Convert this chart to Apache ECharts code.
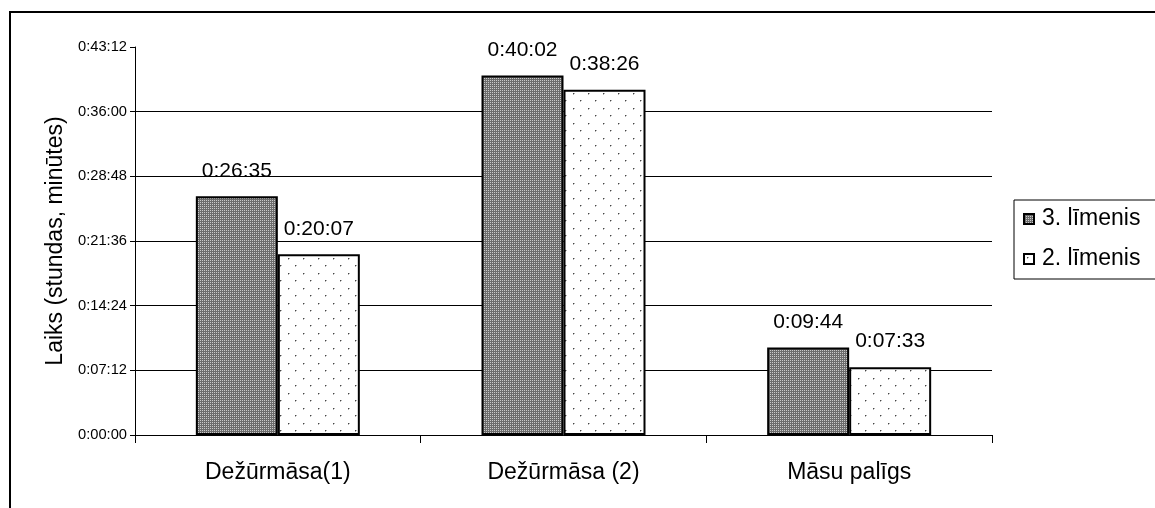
<!DOCTYPE html>
<html>
<head>
<meta charset="utf-8">
<script src="https://cdn.jsdelivr.net/npm/echarts@6/dist/echarts.min.js"></script>
<style>
html,body{margin:0;padding:0;background:#fff;}
#chart{width:1155px;height:508px;}
</style>
</head>
<body>
<div id="chart"></div>
<script>
var categories = ['Dežūrmāsa(1)', 'Dežūrmāsa (2)', 'Māsu palīgs'];
var seriesNames = ['3. līmenis', '2. līmenis'];
// values in seconds
var level3 = [1595, 2402, 584];   // 0:26:35, 0:40:02, 0:09:44
var level2 = [1207, 2306, 453];   // 0:20:07, 0:38:26, 0:07:33
var yMax = 2592;      // 0:43:12
var yInterval = 432;  // 0:07:12

function fmt(s){
  var h = Math.floor(s/3600), m = Math.floor((s%3600)/60), sec = Math.round(s%60);
  return h + ':' + (m<10?'0':'') + m + ':' + (sec<10?'0':'') + sec;
}

function checkerPattern(){
  var c = document.createElement('canvas');
  c.width = 2; c.height = 2;
  var g = c.getContext('2d');
  g.fillStyle = '#6c6c6c'; g.fillRect(0,0,2,2);
  g.fillStyle = '#cacaca'; g.fillRect(0,0,1,1);
  return c;
}
function dotPattern(){
  var c = document.createElement('canvas');
  c.width = 15; c.height = 15;
  var g = c.getContext('2d');
  g.fillStyle = '#ffffff'; g.fillRect(0,0,15,15);
  g.fillStyle = '#444444';
  g.fillRect(3,3,1,1);
  g.fillRect(10,10,1,1);
  g.fillStyle = 'rgba(60,60,60,0.4)';
  g.fillRect(4,3,1,1); g.fillRect(3,4,1,1);
  g.fillRect(11,10,1,1); g.fillRect(10,11,1,1);
  return c;
}

var chart = echarts.init(document.getElementById('chart'), null, {renderer:'canvas'});
var FONT = 'Liberation Sans, Arial, sans-serif';
var labelStyle = {show:true, position:'top', distance:15, color:'#000', fontFamily:FONT, fontSize:21, formatter:function(p){return fmt(p.value);}};

var splitColors = [];
for (var v = 0; v <= yMax; v += yInterval) splitColors.push(v < yMax ? '#000' : 'rgba(0,0,0,0)');

chart.setOption({
  animation:false,
  backgroundColor:'#fff',
  graphic:[{type:'rect', shape:{x:10, y:12, width:1300, height:700}, style:{fill:'none', stroke:'#000', lineWidth:2}, z:100}],
  grid:{left:135, right:163, top:47, bottom:73},
  legend:{
    orient:'vertical', left:1014, top:200,
    padding:[6,30,7,9], itemGap:14,
    borderColor:'#000', borderWidth:1,
    itemWidth:10, itemHeight:10,
    icon:'rect',
    textStyle:{fontFamily:FONT, fontSize:23, lineHeight:26, color:'#000', padding:[0,0,0,3]},
    data:seriesNames
  },
  xAxis:{
    type:'category', data:categories,
    axisLine:{lineStyle:{color:'#000', width:1}},
    axisTick:{show:true, length:8, lineStyle:{color:'#000'}, interval:0},
    axisLabel:{color:'#000', fontFamily:FONT, fontSize:23, margin:26}
  },
  yAxis:{
    type:'value', min:0, max:yMax, interval:yInterval,
    name:'Laiks (stundas, minūtes)', nameLocation:'middle', nameGap:66,
    nameTextStyle:{fontFamily:FONT, fontSize:23, color:'#000'},
    axisLine:{show:true, lineStyle:{color:'#000', width:1}},
    axisTick:{show:true, length:5, lineStyle:{color:'#000'}},
    axisLabel:{color:'#000', fontFamily:FONT, fontSize:14.7, margin:8, formatter:function(v){return fmt(v);}},
    splitLine:{show:true, lineStyle:{color:splitColors, width:1}}
  },
  series:[
    {name:seriesNames[0], type:'bar', data:level3, barWidth:82, barGap:'0%',
     itemStyle:{color:{image:checkerPattern(), repeat:'repeat'}, borderColor:'#000', borderWidth:2},
     label:labelStyle},
    {name:seriesNames[1], type:'bar', data:level2, barWidth:82, barGap:'0%',
     itemStyle:{color:{image:dotPattern(), repeat:'repeat'}, borderColor:'#000', borderWidth:2},
     label:labelStyle}
  ]
});
</script>
</body>
</html>
